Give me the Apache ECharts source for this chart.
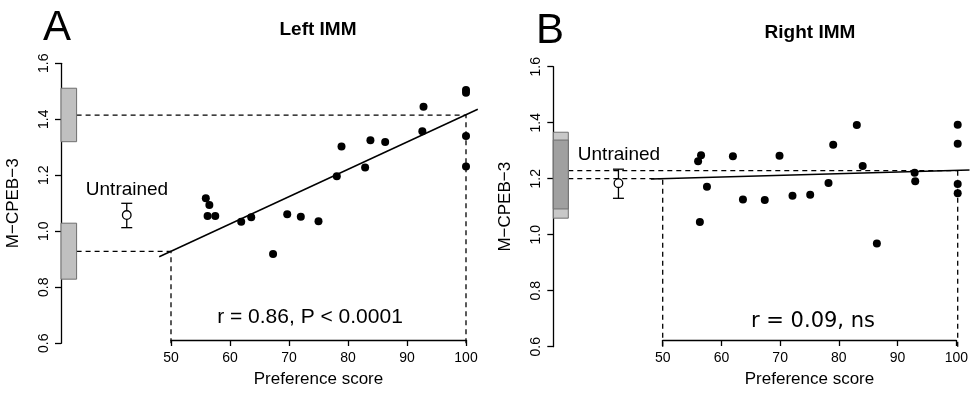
<!DOCTYPE html>
<html>
<head>
<meta charset="utf-8">
<script src="https://cdn.jsdelivr.net/npm/echarts@6/dist/echarts.min.js"></script>
<style>
  html, body { margin: 0; padding: 0; background: #fff; }
  #chart { width: 971px; height: 393px; }
</style>
</head>
<body>
<div id="chart"></div>
<script>
// preference scores (same animals in both panels)
const prefScores = [55.9, 56.5, 56.2, 57.5, 61.9, 63.6, 67.3, 69.7, 72.0, 75.0, 78.1, 78.9, 82.9, 83.8, 86.3, 92.6, 92.8, 100, 100, 100, 100];
const leftValues = [1.118, 1.094, 1.055, 1.055, 1.034, 1.050, 0.919, 1.061, 1.052, 1.036, 1.197, 1.303, 1.228, 1.325, 1.319, 1.357, 1.445, 1.505, 1.495, 1.340, 1.231];
const rightPref = [56.0, 56.5, 57.5, 56.3, 61.9, 63.6, 67.3, 69.8, 72.0, 75.0, 78.1, 78.9, 82.9, 83.9, 86.3, 92.7, 92.8, 100, 100, 100, 100];
const rightValues = [1.262, 1.284, 1.171, 1.045, 1.280, 1.126, 1.124, 1.282, 1.139, 1.143, 1.185, 1.321, 1.392, 1.245, 0.969, 1.221, 1.191, 1.393, 1.325, 1.181, 1.148];

// fitted line: [x, y] at ends of plot region, and fitted values at score 50 / 100
const leftFitLine = [[48, 0.909], [102, 1.436]];
const leftFitAt = [0.928, 1.415];
const rightFitLine = [[48, 1.199], [102, 1.231]];
const rightFitAt = [1.2, 1.229];

// predicted ranges drawn as boxes beside the y axis: [low, high]
const leftBoxes = [[1.32, 1.511], [0.829, 1.029]];
const rightBoxOuter = [1.059, 1.366];
const rightBoxInner = [1.092, 1.338];

// untrained group: [mean, low, high]
const leftUntrained = [1.058, 1.013, 1.1];
const rightUntrained = [1.184, 1.13, 1.234];
const untrainedX = 42.5;

const yTicks = { min: 0.6, max: 1.6, interval: 0.2 };
const xTicks = { min: 50, max: 100, interval: 10 };
const mainX = { min: 34, max: 102 };

const chart = echarts.init(document.getElementById('chart'));
const font = '"Liberation Sans", Arial, sans-serif';

const dash = { color: '#000', width: 1.3, type: [5, 4] };

function yAxisVisible(gridIndex) {
  return {
    gridIndex, type: 'value', min: yTicks.min, max: yTicks.max, interval: yTicks.interval,
    name: 'M\u2212CPEB\u22123', nameLocation: 'middle', nameGap: 39,
    nameTextStyle: { fontFamily: font, fontSize: 17, color: '#000' },
    axisLine: { show: true, lineStyle: { color: '#000', width: 1.3 } },
    axisTick: { show: true, length: 6, lineStyle: { color: '#000', width: 1.3 } },
    axisLabel: {
      rotate: 90, margin: 10, fontFamily: font, fontSize: 14, color: '#000',
      formatter: (v) => v.toFixed(1),
    },
    splitLine: { show: false },
  };
}
function yAxisHidden(gridIndex) {
  return { gridIndex, type: 'value', min: yTicks.min, max: yTicks.max, show: false, splitLine: { show: false } };
}
function xAxisVisible(gridIndex) {
  return {
    gridIndex, type: 'value', min: xTicks.min, max: xTicks.max, interval: xTicks.interval,
    name: 'Preference score', nameLocation: 'middle', nameGap: 31,
    nameTextStyle: { fontFamily: font, fontSize: 17, color: '#000' },
    axisLine: { show: true, lineStyle: { color: '#000', width: 1.3 } },
    axisTick: { show: true, length: 6, lineStyle: { color: '#000', width: 1.3 } },
    axisLabel: { margin: 11, fontFamily: font, fontSize: 14, color: '#000' },
    splitLine: { show: false },
  };
}
function xAxisHidden(gridIndex, min, max) {
  return { gridIndex, type: 'value', min, max, show: false, splitLine: { show: false } };
}

function boxSeries(axisIndex, boxes, fill, stroke) {
  return {
    type: 'custom', xAxisIndex: axisIndex, yAxisIndex: axisIndex, silent: true,
    data: boxes,
    renderItem: (params, api) => {
      const p0 = api.coord([0, api.value(1)]);
      const p1 = api.coord([1, api.value(0)]);
      return {
        type: 'rect',
        shape: { x: p0[0], y: p0[1], width: p1[0] - p0[0], height: p1[1] - p0[1] },
        style: { fill, stroke, lineWidth: 1 },
      };
    },
  };
}

function segment(axisIndex, a, b, style) {
  return {
    type: 'line', xAxisIndex: axisIndex, yAxisIndex: axisIndex, silent: true,
    symbol: 'none', data: [a, b], lineStyle: style, z: 1,
  };
}

function untrainedSeries(axisIndex, vals) {
  return {
    type: 'custom', xAxisIndex: axisIndex, yAxisIndex: axisIndex, silent: true,
    data: [[untrainedX, vals[0], vals[1], vals[2]]],
    renderItem: (params, api) => {
      const c = api.coord([api.value(0), api.value(1)]);
      const lo = api.coord([api.value(0), api.value(2)]);
      const hi = api.coord([api.value(0), api.value(3)]);
      const st = { stroke: '#000', lineWidth: 1.3 };
      return {
        type: 'group',
        children: [
          { type: 'line', shape: { x1: lo[0], y1: lo[1], x2: hi[0], y2: hi[1] }, style: st },
          { type: 'line', shape: { x1: lo[0] - 5.5, y1: lo[1], x2: lo[0] + 5.5, y2: lo[1] }, style: st },
          { type: 'line', shape: { x1: hi[0] - 5.5, y1: hi[1], x2: hi[0] + 5.5, y2: hi[1] }, style: st },
          { type: 'circle', shape: { cx: c[0], cy: c[1], r: 4.3 }, style: { fill: '#fff', stroke: '#000', lineWidth: 1.3 } },
        ],
      };
    },
  };
}

function panelSeries(base, xs, ys, fitLine, fitAt, untrained) {
  // base: axis index of box grid; base+1 main grid; base+2 x-axis grid
  const m = base + 1;
  return [
    segment(m, [mainX.min, fitAt[1]], [xTicks.max, fitAt[1]], dash),
    segment(m, [mainX.min, fitAt[0]], [xTicks.min, fitAt[0]], dash),
    segment(m, [xTicks.min, yTicks.min], [xTicks.min, fitAt[0]], dash),
    segment(m, [xTicks.max, yTicks.min], [xTicks.max, fitAt[1]], dash),
    segment(m, fitLine[0], fitLine[1], { color: '#000', width: 1.5 }),
    untrainedSeries(m, untrained),
    {
      type: 'scatter', xAxisIndex: m, yAxisIndex: m, silent: true,
      symbol: 'circle', symbolSize: 8, itemStyle: { color: '#000', opacity: 1 }, z: 3,
      data: xs.map((x, i) => [x, ys[i]]),
    },
  ];
}

const option = {
  animation: false,
  backgroundColor: '#fff',
  grid: [
    { left: 61, top: 63.3, width: 15.6, height: 280 },
    { left: 76.6, top: 63.3, width: 401.2, height: 280 },
    { left: 171, top: 63.3, width: 295, height: 280 },
    { left: 553.3, top: 66.7, width: 15, height: 280 },
    { left: 568.3, top: 66.7, width: 401.2, height: 280 },
    { left: 662.7, top: 66.7, width: 295, height: 280 },
  ],
  xAxis: [
    xAxisHidden(0, 0, 1), xAxisHidden(1, mainX.min, mainX.max), xAxisVisible(2),
    xAxisHidden(3, 0, 1), xAxisHidden(4, mainX.min, mainX.max), xAxisVisible(5),
  ],
  yAxis: [
    yAxisVisible(0), yAxisHidden(1), yAxisHidden(2),
    yAxisVisible(3), yAxisHidden(4), yAxisHidden(5),
  ],
  series: [
    boxSeries(0, leftBoxes, '#c0c0c0', '#6e6e6e'),
    boxSeries(3, [rightBoxOuter], '#c8c8c8', '#707070'),
    boxSeries(3, [rightBoxInner], '#a0a0a0', '#707070'),
    ...panelSeries(0, prefScores, leftValues, leftFitLine, leftFitAt, leftUntrained),
    ...panelSeries(3, rightPref, rightValues, rightFitLine, rightFitAt, rightUntrained),
  ],
  graphic: [
    { type: 'text', x: 57, y: 28, style: { text: 'A', font: '42px ' + font, fill: '#000', textAlign: 'center', textVerticalAlign: 'middle' } },
    { type: 'text', x: 318, y: 30, style: { text: 'Left IMM', font: 'bold 19px ' + font, fill: '#000', textAlign: 'center', textVerticalAlign: 'middle' } },
    { type: 'text', x: 550, y: 31, style: { text: 'B', font: '42px ' + font, fill: '#000', textAlign: 'center', textVerticalAlign: 'middle' } },
    { type: 'text', x: 810, y: 33, style: { text: 'Right IMM', font: 'bold 19px ' + font, fill: '#000', textAlign: 'center', textVerticalAlign: 'middle' } },
    { type: 'text', x: 127, y: 190, style: { text: 'Untrained', font: '19px ' + font, fill: '#000', textAlign: 'center', textVerticalAlign: 'middle' } },
    { type: 'text', x: 619, y: 155, style: { text: 'Untrained', font: '19px ' + font, fill: '#000', textAlign: 'center', textVerticalAlign: 'middle' } },
    { type: 'text', x: 310, y: 317, style: { text: 'r = 0.86, P < 0.0001', font: '21px ' + font, fill: '#000', textAlign: 'center', textVerticalAlign: 'middle' } },
    { type: 'text', x: 813, y: 322, style: { text: 'r = 0.09, ns', font: '21px "DejaVu Sans", sans-serif', fill: '#000', textAlign: 'center', textVerticalAlign: 'middle' } },
  ],
};

chart.setOption(option);
</script>
</body>
</html>
